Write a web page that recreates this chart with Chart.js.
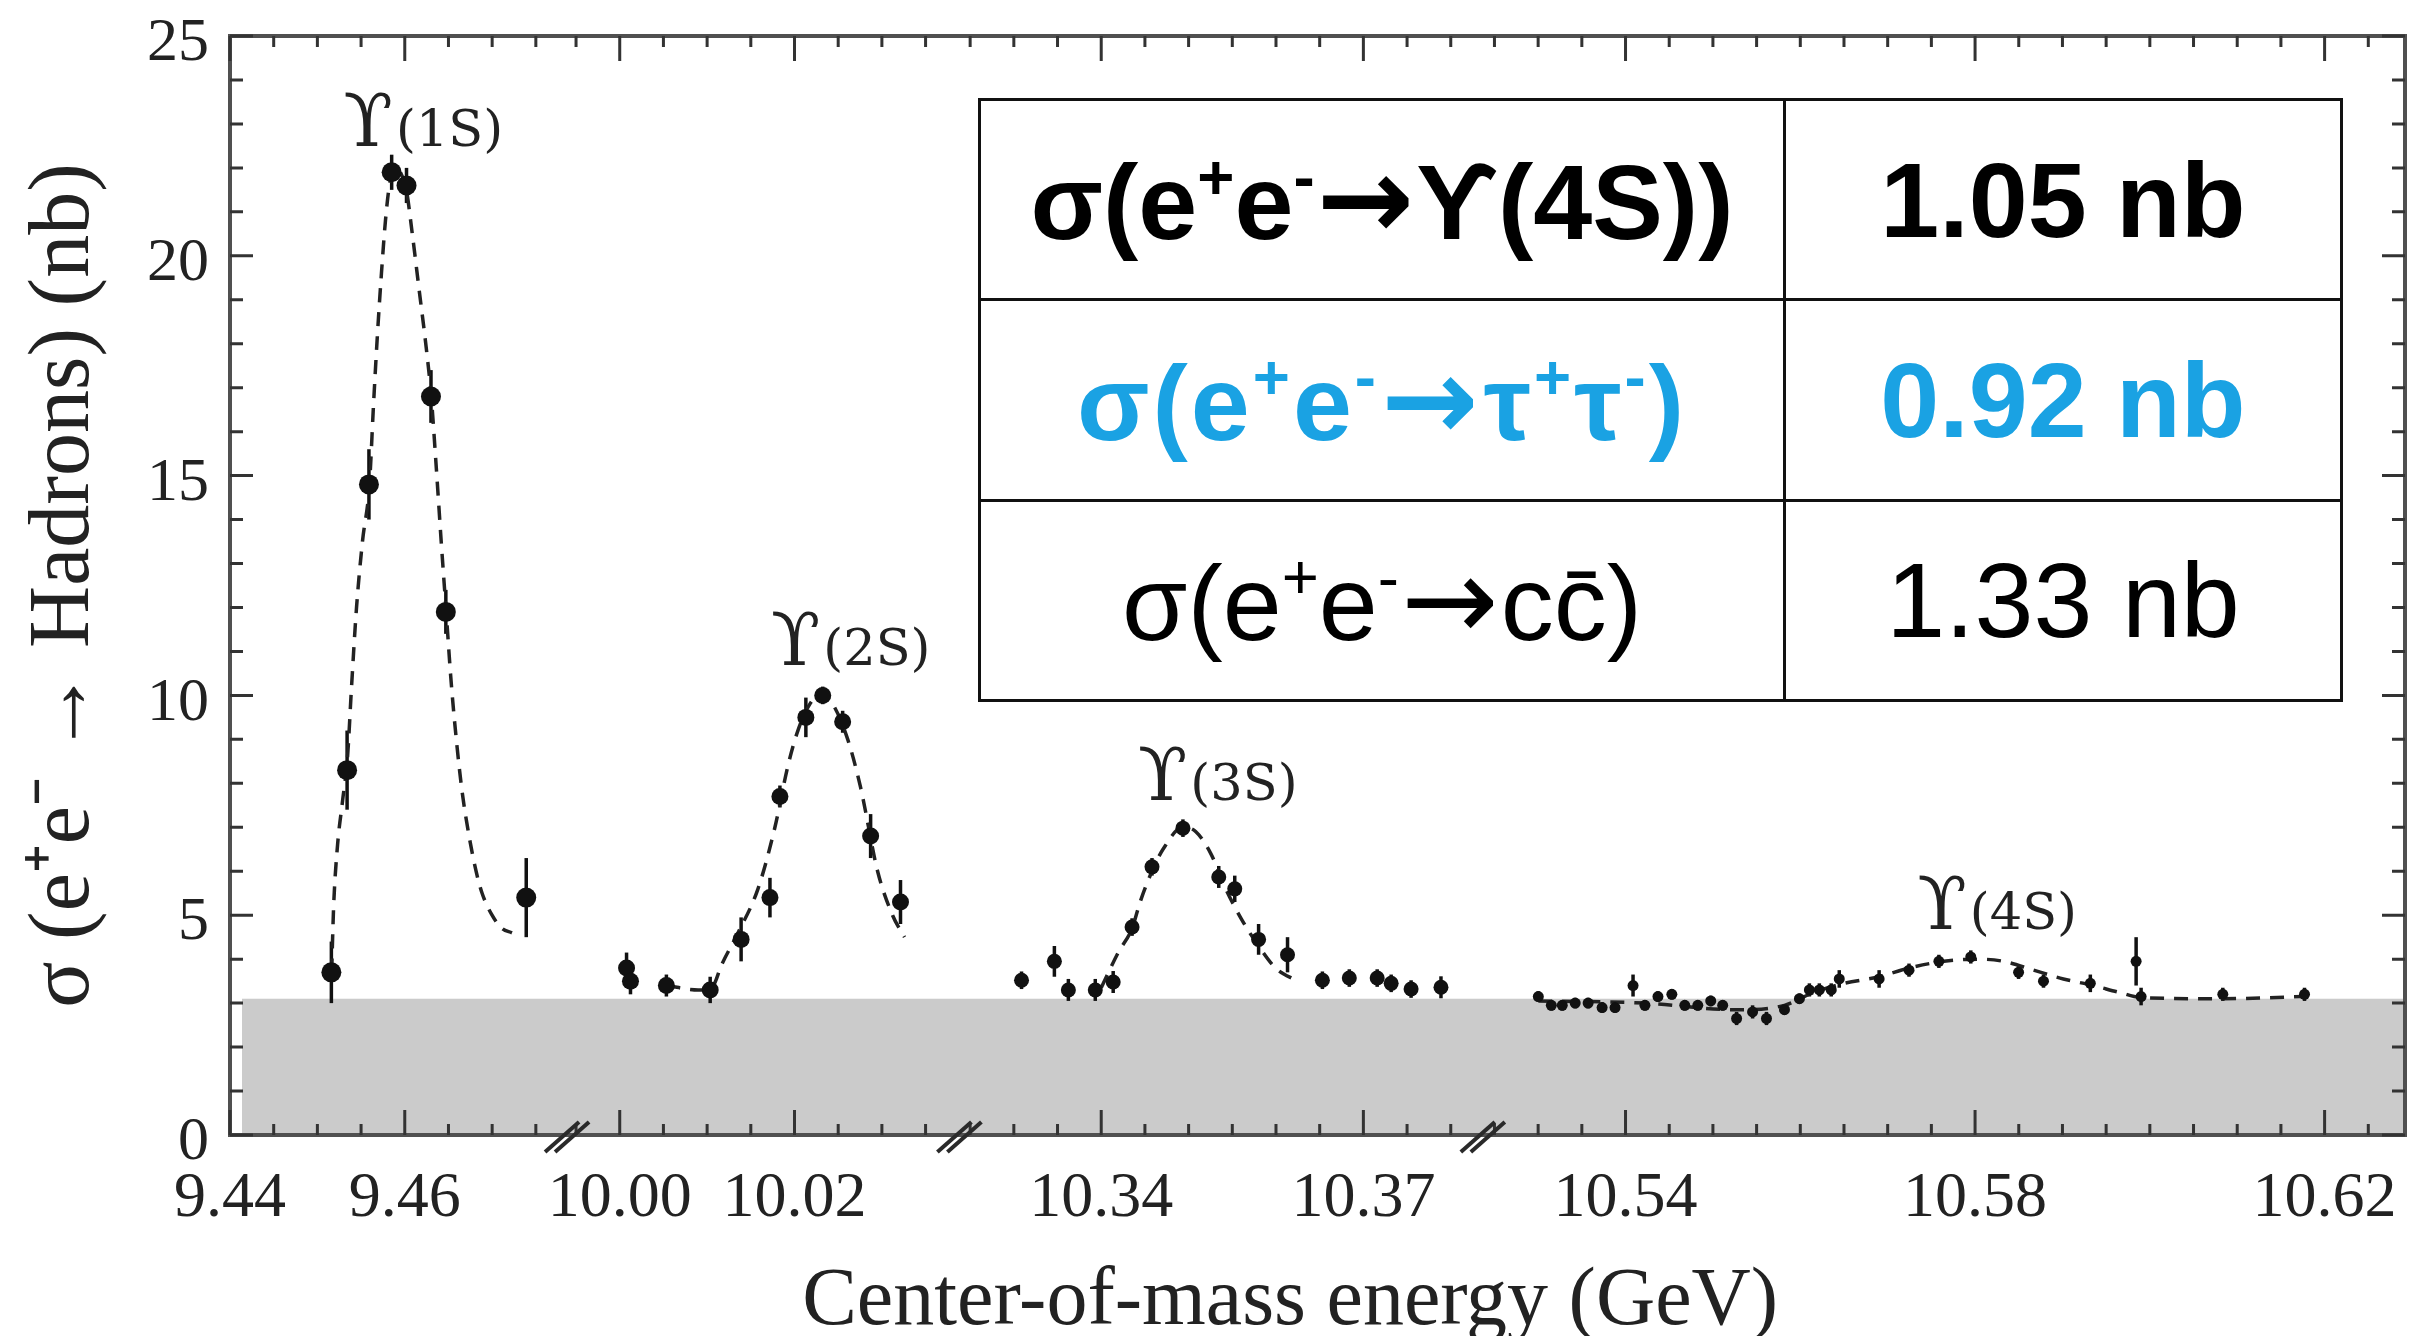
<!DOCTYPE html>
<html><head><meta charset="utf-8">
<script src="https://cdn.jsdelivr.net/npm/chart.js@4.4.1/dist/chart.umd.min.js"></script>
<style>
html,body{margin:0;padding:0;overflow:hidden;background:#fff;}
#wrap{position:relative;width:2415px;height:1336px;}
#c{position:absolute;left:0;top:0;}
#tbl{position:absolute;left:978px;top:98px;}
#tbl table{border-collapse:collapse;font-family:"Liberation Sans",Arial,sans-serif;font-size:106px;background:#fff;width:1362px;height:604px;table-layout:fixed;}
#tbl tr{height:200px;}
#tbl td{border:3px solid #111;text-align:center;vertical-align:middle;padding:0;line-height:1;white-space:nowrap;}
#tbl td.t{letter-spacing:3px;}
#tbl sup{font-size:0.6em;position:relative;top:-0.64em;vertical-align:baseline;line-height:0;}
#tbl .ar{font-family:"DejaVu Sans",sans-serif;font-size:1.1em;margin:0 2px;}
</style></head>
<body>
<div id="wrap">
<canvas id="c" width="2415" height="1336" style="width:2415px;height:1336px"></canvas>
<div id="tbl"></div>
</div>
<script>
// ---------------- data ----------------
const segRanges = [[9.44, 9.4788], [9.9942, 10.0391], [10.3240, 10.3839], [10.5239, 10.6292]];
const segTicks  = [[9.44, 9.46], [10.00, 10.02], [10.34, 10.37], [10.54, 10.58, 10.62]];
const yTicks = [0, 5, 10, 15, 20, 25];
const bandLevel = 3.1;   // grey continuum band (nb)

// Upsilon(1S)
const e1S = [9.4516, 9.4534, 9.4559, 9.4585, 9.4602, 9.4630, 9.4647, 9.4739];
const s1S = [3.7, 8.3, 14.8, 21.9, 21.6, 16.8, 11.9, 5.4];
const d1S = [0.7, 0.9, 0.8, 0.4, 0.4, 0.6, 0.5, 0.9];
const fitE1S = [9.45163, 9.45186, 9.45231, 9.45288, 9.45345, 9.45391, 9.45448, 9.45516, 9.45596, 9.45642,
  9.45687, 9.45733, 9.45779, 9.45824, 9.45881, 9.45950, 9.46018, 9.46086, 9.46166, 9.46246, 9.46303, 9.46360,
  9.46417, 9.46474, 9.46531, 9.46600, 9.46657, 9.46736, 9.46816, 9.46885, 9.46999, 9.47113, 9.47227];
const fitS1S = [3.7, 5.2, 6.6, 7.6, 8.6, 10.2, 12.0, 13.5, 14.8, 16.6,
  18.2, 19.6, 20.8, 21.6, 22.0, 21.9, 21.5, 20.5, 19.2, 17.9, 16.8, 15.2,
  13.5, 11.9, 10.3, 8.8, 7.8, 6.8, 6.0, 5.5, 5.0, 4.7, 4.6];

// Upsilon(2S)
const e2S = [10.00078, 10.00123, 10.00534, 10.01035, 10.01389, 10.01719, 10.01833, 10.02130, 10.02323, 10.02551, 10.02871, 10.03213];
const s2S = [3.8, 3.5, 3.4, 3.3, 4.45, 5.4, 7.7, 9.5, 10.0, 9.4, 6.8, 5.3];
const d2S = [0.35, 0.3, 0.25, 0.3, 0.5, 0.45, 0.25, 0.45, 0.2, 0.25, 0.5, 0.5];
const fitE2S = [10.00534, 10.00898, 10.01069, 10.01161, 10.01354, 10.01582, 10.01776, 10.01925, 10.02039,
  10.02175, 10.02301, 10.02438, 10.02609, 10.02757, 10.02951, 10.03122, 10.03259];
const fitS2S = [3.4, 3.3, 3.4, 3.85, 4.6, 5.6, 7.0, 8.4, 9.2, 9.8, 10.05, 9.8, 9.0, 7.9, 6.0, 5.0, 4.5];

// Upsilon(3S)
const e3S = [10.33088, 10.33464, 10.33624, 10.33932, 10.34137, 10.34353, 10.34581, 10.34935, 10.35345,
  10.35528, 10.35801, 10.36132, 10.36531, 10.36839, 10.37158, 10.37318, 10.37546, 10.37888];
const s3S = [3.52, 3.95, 3.3, 3.3, 3.48, 4.73, 6.1, 6.98, 5.87, 5.6, 4.45, 4.1, 3.52, 3.57, 3.57, 3.45, 3.32, 3.36];
const d3S = [0.2, 0.35, 0.25, 0.25, 0.25, 0.2, 0.2, 0.2, 0.25, 0.3, 0.35, 0.4, 0.2, 0.2, 0.2, 0.2, 0.2, 0.25];
const fitE3S = [10.34000, 10.34194, 10.34353, 10.34445, 10.34581, 10.34707, 10.34935, 10.35083, 10.35254,
  10.35425, 10.35608, 10.35801, 10.35995, 10.36246];
const fitS3S = [3.35, 4.15, 4.7, 5.3, 6.0, 6.5, 7.0, 6.9, 6.4, 5.6, 4.9, 4.3, 3.8, 3.5];

// Upsilon(4S)
const e4S = [10.53002, 10.53151, 10.53276, 10.53424, 10.53572, 10.53732, 10.53880, 10.54086, 10.54222, 10.54371,
  10.54530, 10.54678, 10.54827, 10.54975, 10.55112, 10.55271, 10.55454, 10.55613, 10.55819, 10.55990, 10.56104,
  10.56218, 10.56354, 10.56446, 10.56902, 10.57244, 10.57586, 10.57951, 10.58498, 10.58783, 10.59319, 10.59843,
  10.59900, 10.60835, 10.61770];
const s4S = [3.15, 2.95, 2.95, 3.0, 3.0, 2.9, 2.9, 3.4, 2.95, 3.15,
  3.2, 2.95, 2.95, 3.05, 2.95, 2.65, 2.8, 2.65, 2.85, 3.1, 3.3,
  3.3, 3.3, 3.55, 3.55, 3.75, 3.95, 4.05, 3.7, 3.5, 3.45, 3.95,
  3.15, 3.2, 3.2];
const d4S = [0.12, 0.12, 0.12, 0.12, 0.12, 0.12, 0.12, 0.25, 0.12, 0.12,
  0.12, 0.12, 0.12, 0.12, 0.12, 0.15, 0.15, 0.15, 0.12, 0.12, 0.15,
  0.15, 0.15, 0.2, 0.2, 0.15, 0.15, 0.15, 0.15, 0.15, 0.2, 0.55,
  0.2, 0.15, 0.15];
const fitE4S = [10.53002, 10.54222, 10.55248, 10.55819, 10.56161, 10.56503, 10.56902, 10.57244, 10.57643,
  10.58042, 10.58327, 10.58669, 10.59011, 10.59353, 10.59638, 10.59923, 10.60835, 10.61770];
const fitS4S = [3.05, 3.0, 2.85, 2.95, 3.25, 3.45, 3.6, 3.8, 3.95, 4.0, 3.95, 3.75, 3.55, 3.4, 3.25, 3.12, 3.1, 3.15];

// resonance labels (anchored at energy / cross-section)
const peakSymbol = 'ϒ';
const peakNames = ['(1S)', '(2S)', '(3S)', '(4S)'];
const peakAnchorE = [9.4530, 10.0173, 10.3442, 10.5734];
const peakAnchorS = [22.5, 10.7, 7.62, 4.69];

// inset table
const AR = '<span class="ar">→</span>';
const procNames = ['σ(e<sup>+</sup>e<sup>-</sup>' + AR + 'ϒ(4S))',
                   'σ(e<sup>+</sup>e<sup>-</sup>' + AR + 'τ<sup>+</sup>τ<sup>-</sup>)',
                   'σ(e<sup>+</sup>e<sup>-</sup>' + AR + 'cc̄)'];
const procXsec = ['1.05', '0.92', '1.33'];
const procUnit = 'nb';

const xTitle = 'Center-of-mass energy (GeV)';
const yTitle = 'σ (e⁺e⁻ → Hadrons) (nb)';

// ---------------- styles ----------------
const procColors = ['#000', '#1aa2e3', '#000'];
const procWeights = ['bold', 'bold', 'normal'];
const procClass = ['', 't', ''];
const pointSizes = [10, 8.5, 7.5, 5.5];
const SERIF = '"Liberation Serif", "Times New Roman", serif';
const TXT = '#222';

// ---------------- table ----------------
(function buildTable() {
  let html = '<table><colgroup><col style="width:805px"><col style="width:557px"></colgroup>';
  procNames.forEach((n, i) => {
    const st = 'color:' + procColors[i] + ';font-weight:' + procWeights[i];
    html += '<tr><td class="' + procClass[i] + '" style="' + st + '">' + n + '</td><td style="' + st + '">' + procXsec[i] + ' ' + procUnit + '</td></tr>';
  });
  html += '</table>';
  document.getElementById('tbl').innerHTML = html;
})();

// ---------------- chart ----------------
const segs = [
  {E: e1S, S: s1S, D: d1S, fE: fitE1S, fS: fitS1S},
  {E: e2S, S: s2S, D: d2S, fE: fitE2S, fS: fitS2S},
  {E: e3S, S: s3S, D: d3S, fE: fitE3S, fS: fitS3S},
  {E: e4S, S: s4S, D: d4S, fE: fitE4S, fS: fitS4S}
];

const datasets = [];
segs.forEach((sg, i) => {
  datasets.push({
    type: 'scatter', label: 'data ' + peakNames[i], xAxisID: 'x' + (i + 1), yAxisID: 'y',
    data: sg.E.map((x, j) => ({x: x, y: sg.S[j]})), errors: sg.D,
    pointRadius: pointSizes[i], pointBackgroundColor: '#111', pointBorderWidth: 0, order: 0
  });
  datasets.push({
    type: 'line', label: 'fit ' + peakNames[i], xAxisID: 'x' + (i + 1), yAxisID: 'y',
    data: sg.fE.map((x, j) => ({x: x, y: sg.fS[j]})),
    borderColor: '#222', borderWidth: 3.5, borderDash: [14, 10], pointRadius: 0,
    cubicInterpolationMode: 'monotone', fill: false, order: 1
  });
});

const scales = {
  y: {
    type: 'linear', position: 'left', min: 0, max: 25,
    afterBuildTicks: s => { s.ticks = yTicks.map(v => ({value: v})); },
    ticks: {font: {family: SERIF, size: 62}, color: TXT, padding: 21, labelOffset: 8},
    grid: {display: false, drawTicks: false}, border: {display: false},
    title: {display: true, text: yTitle, font: {family: SERIF, size: 86}, color: TXT, padding: {top: 14, bottom: 0}},
    afterFit: s => { s.width = 230; s.paddingTop = 0; s.paddingBottom = 0; }
  }
};
segRanges.forEach((r, i) => {
  scales['x' + (i + 1)] = {
    type: 'linear', position: 'bottom', stack: 'energy', stackWeight: r[1] - r[0],
    min: r[0], max: r[1],
    afterBuildTicks: s => { s.ticks = segTicks[i].map(v => ({value: v})); },
    ticks: {autoSkip: false, maxRotation: 0, minRotation: 0, callback: v => Number(v).toFixed(2),
            font: {family: SERIF, size: 64}, color: TXT, padding: 26},
    grid: {display: false, drawTicks: false}, border: {display: false},
    afterFit: s => { s.height = 100; s.paddingLeft = 0; s.paddingRight = 0; }
  };
});
// title axis: split in two stacked parts so the title centre sits where the original has it
scales.xt = {
  type: 'linear', position: 'bottom', weight: 1, stack: 'title', stackWeight: 2128, min: 0, max: 1,
  ticks: {display: false}, grid: {display: false, drawTicks: false}, border: {display: false},
  title: {display: true, text: xTitle, font: {family: SERIF, size: 82, lineHeight: 0.8}, color: TXT, padding: {top: 0, bottom: 1}},
  afterFit: s => { s.height = 101; s.paddingLeft = 0; s.paddingRight = 0; }
};
scales.xt2 = {
  type: 'linear', position: 'bottom', weight: 1, stack: 'title', stackWeight: 55, min: 0, max: 1,
  ticks: {display: false}, grid: {display: false, drawTicks: false}, border: {display: false},
  afterFit: s => { s.height = 101; s.paddingLeft = 0; s.paddingRight = 0; }
};

const decor = {
  id: 'decor',
  beforeDatasetsDraw(chart) {
    const {ctx, chartArea: ca, scales: sc} = chart;
    const y = sc.y;
    ctx.save();
    // grey band
    const yt = y.getPixelForValue(bandLevel), y0 = y.getPixelForValue(0);
    ctx.fillStyle = '#cbcbcb';
    ctx.fillRect(ca.left + 12, yt, ca.right - ca.left - 12, y0 - yt);
    // error bars
    ctx.strokeStyle = '#111';
    ctx.lineWidth = 3.5;
    chart.data.datasets.forEach(ds => {
      if (!ds.errors) return;
      const xs = sc[ds.xAxisID];
      ds.data.forEach((p, j) => {
        const e = ds.errors[j];
        const px = xs.getPixelForValue(p.x);
        ctx.beginPath();
        ctx.moveTo(px, y.getPixelForValue(p.y - e));
        ctx.lineTo(px, y.getPixelForValue(p.y + e));
        ctx.stroke();
      });
    });
    ctx.restore();
  },
  afterDatasetsDraw(chart) {
    const {ctx, chartArea: ca, scales: sc} = chart;
    const y = sc.y;
    ctx.save();
    // frame
    ctx.strokeStyle = '#505050';
    ctx.lineWidth = 4;
    ctx.strokeRect(ca.left, ca.top, ca.right - ca.left, ca.bottom - ca.top);
    // x ticks (inward, bottom and top)
    ctx.strokeStyle = '#333';
    ctx.lineWidth = 3;
    const step = 0.005;
    segRanges.forEach((r, i) => {
      const xs = sc['x' + (i + 1)];
      const k0 = Math.ceil(r[0] / step - 1e-6), k1 = Math.floor(r[1] / step + 1e-6);
      for (let k = k0; k <= k1; k++) {
        const v = k * step;
        const major = segTicks[i].some(t => Math.abs(t - v) < 1e-6);
        const len = major ? 25 : 11;
        const px = xs.getPixelForValue(v);
        ctx.beginPath();
        ctx.moveTo(px, ca.bottom); ctx.lineTo(px, ca.bottom - len);
        ctx.moveTo(px, ca.top); ctx.lineTo(px, ca.top + len);
        ctx.stroke();
      }
    });
    // y ticks (inward, left and right)
    for (let v = 0; v <= 25; v++) {
      const major = yTicks.includes(v);
      const len = major ? 23 : 13;
      const py = y.getPixelForValue(v);
      ctx.beginPath();
      ctx.moveTo(ca.left, py); ctx.lineTo(ca.left + len, py);
      ctx.moveTo(ca.right, py); ctx.lineTo(ca.right - len, py);
      ctx.stroke();
    }
    // axis break marks
    ctx.strokeStyle = '#2a2a2a';
    ctx.lineWidth = 4;
    for (let i = 1; i <= 3; i++) {
      const bx = sc['x' + i].right, by = ca.bottom + 2;
      [-5, 5].forEach(d => {
        ctx.beginPath();
        ctx.moveTo(bx + d - 19, by + 15);
        ctx.lineTo(bx + d + 15, by - 15);
        ctx.stroke();
      });
    }
    // resonance labels
    ctx.fillStyle = TXT;
    ctx.textAlign = 'left';
    ctx.textBaseline = 'alphabetic';
    peakNames.forEach((nm, i) => {
      const xs = sc['x' + (i + 1)];
      const px = xs.getPixelForValue(peakAnchorE[i]);
      const py = y.getPixelForValue(peakAnchorS[i]);
      ctx.font = '72px "DejaVu Serif", serif';
      ctx.fillText(peakSymbol, px, py);
      const w = ctx.measureText(peakSymbol).width;
      ctx.font = '51px "DejaVu Serif", serif';
      ctx.fillText(nm, px + w + 3, py);
    });
    ctx.restore();
  }
};

new Chart(document.getElementById('c'), {
  type: 'scatter',
  data: {datasets: datasets},
  options: {
    responsive: false, animation: false, devicePixelRatio: 1, events: [],
    layout: {padding: {top: 36, left: 0, right: 2, bottom: 0}},
    plugins: {legend: {display: false}, tooltip: {enabled: false}},
    scales: scales
  },
  plugins: [decor]
});
</script>
</body></html>
